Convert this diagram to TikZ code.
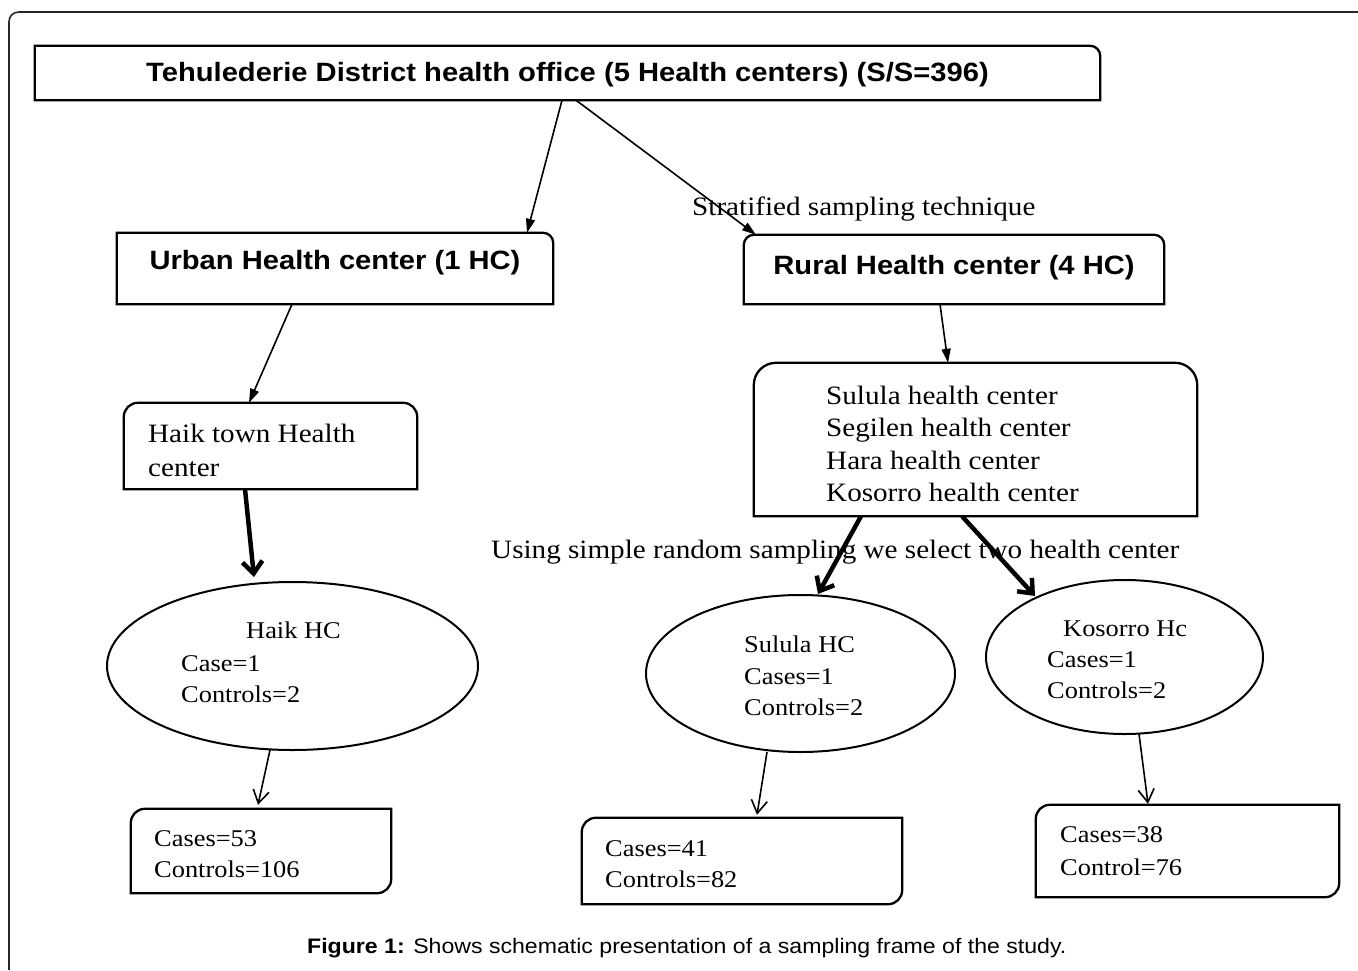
\documentclass[tikz,border=0pt]{standalone}
\usepackage{fontspec}
\setmainfont{Liberation Serif}[FakeStretch=1.1]
\setsansfont{Liberation Sans}[FakeStretch=1.1]
\usetikzlibrary{arrows.meta,calc,shapes.geometric}
\begin{document}
\begin{tikzpicture}[x=1pt,y=-1pt,
  boxline/.style={line width=2.3pt, line join=miter},
  bx/.style={inner sep=0pt, draw=none, rectangle},
  hd/.style={bx, font=\sffamily\bfseries\fontsize{26.5}{30}\selectfont},
  ell/.style={draw, ellipse, line width=2pt, inner sep=0pt},
  txt/.style={inner sep=0pt, anchor=base west, font=\fontsize{26.5}{30}\selectfont},
  stxt/.style={inner sep=0pt, anchor=base west, font=\fontsize{24}{28}\selectfont},
  tri/.style={line width=1.6pt, -{Triangle[length=14pt,width=9pt]}},
  barb/.style={line width=1.6pt, -{Straight Barb[length=13pt,width=16pt]}},
  thk/.style={line width=4.5pt, -{Straight Barb[length=12pt,width=20pt]}}]
\useasboundingbox (0,0) rectangle (1358,970);
\fill[white] (0,0) rectangle (1358,970);
% outer frame
\draw[line width=1.6pt, draw=black!85] (9,970) -- (9,22) .. controls (9,16.5) and (12.5,12) .. (19,12) -- (1358,12);

% boxes (nodes)
\node[hd, minimum width=1065pt, minimum height=54pt, text height=35pt, text depth=19pt] (top) at (567.5,73)
  {Tehulederie District health office (5 Health centers) (S/S=396)};
\node[hd, minimum width=436pt, minimum height=71pt, text height=36.5pt, text depth=34.5pt] (urban) at (335,268.5)
  {Urban Health center (1 HC)};
\node[hd, minimum width=420pt, minimum height=69pt, text height=39pt, text depth=30pt] (rural) at (954,269.5)
  {Rural Health center (4 HC)};
\node[bx, minimum width=293pt, minimum height=86pt] (htown) at (270.5,446) {};
\node[bx, minimum width=443pt, minimum height=153pt] (list) at (975.5,439.5) {};
\node[bx, minimum width=260pt, minimum height=84pt] (hres) at (261,851) {};
\node[bx, minimum width=320pt, minimum height=86pt] (sres) at (742,861) {};
\node[bx, minimum width=303pt, minimum height=92pt] (kres) at (1187.5,851) {};

% ellipses
\node[ell, minimum width=371pt, minimum height=168pt] (hhc) at (292.5,666) {};
\node[ell, minimum width=309pt, minimum height=157pt] (sul) at (800.5,673.5) {};
\node[ell, minimum width=277pt, minimum height=154pt] (kos) at (1124.5,657) {};

% box outlines
\draw[boxline] (top.south west) -- (top.north west) -- ($(top.north east)+(-10,0)$) .. controls ($(top.north east)+(-4.5,0)$) and ($(top.north east)+(0,4.5)$) .. ($(top.north east)+(0,10)$) -- (top.south east) -- cycle;
\draw[boxline] (urban.south west) -- (urban.north west) -- ($(urban.north east)+(-10,0)$) .. controls ($(urban.north east)+(-4.5,0)$) and ($(urban.north east)+(0,4.5)$) .. ($(urban.north east)+(0,10)$) -- (urban.south east) -- cycle;
\draw[boxline] (rural.south west) -- ($(rural.north west)+(0,10)$) .. controls ($(rural.north west)+(0,4.5)$) and ($(rural.north west)+(4.5,0)$) .. ($(rural.north west)+(10,0)$) -- ($(rural.north east)+(-10,0)$) .. controls ($(rural.north east)+(-4.5,0)$) and ($(rural.north east)+(0,4.5)$) .. ($(rural.north east)+(0,10)$) -- (rural.south east) -- cycle;
\draw[boxline] (htown.south west) -- ($(htown.north west)+(0,14)$) .. controls ($(htown.north west)+(0,6.3)$) and ($(htown.north west)+(6.3,0)$) .. ($(htown.north west)+(14,0)$) -- ($(htown.north east)+(-14,0)$) .. controls ($(htown.north east)+(-6.3,0)$) and ($(htown.north east)+(0,6.3)$) .. ($(htown.north east)+(0,14)$) -- (htown.south east) -- cycle;
\draw[boxline] (list.south west) -- ($(list.north west)+(0,22)$) .. controls ($(list.north west)+(0,10)$) and ($(list.north west)+(10,0)$) .. ($(list.north west)+(22,0)$) -- ($(list.north east)+(-22,0)$) .. controls ($(list.north east)+(-10,0)$) and ($(list.north east)+(0,10)$) .. ($(list.north east)+(0,22)$) -- (list.south east) -- cycle;
\draw[boxline] (hres.south west) -- ($(hres.north west)+(0,14)$) .. controls ($(hres.north west)+(0,6.3)$) and ($(hres.north west)+(6.3,0)$) .. ($(hres.north west)+(14,0)$) -- (hres.north east) -- ($(hres.south east)+(0,-14)$) .. controls ($(hres.south east)+(0,-6.3)$) and ($(hres.south east)+(-6.3,0)$) .. ($(hres.south east)+(-14,0)$) -- cycle;
\draw[boxline] (sres.south west) -- ($(sres.north west)+(0,14)$) .. controls ($(sres.north west)+(0,6.3)$) and ($(sres.north west)+(6.3,0)$) .. ($(sres.north west)+(14,0)$) -- (sres.north east) -- ($(sres.south east)+(0,-14)$) .. controls ($(sres.south east)+(0,-6.3)$) and ($(sres.south east)+(-6.3,0)$) .. ($(sres.south east)+(-14,0)$) -- cycle;
\draw[boxline] (kres.south west) -- ($(kres.north west)+(0,14)$) .. controls ($(kres.north west)+(0,6.3)$) and ($(kres.north west)+(6.3,0)$) .. ($(kres.north west)+(14,0)$) -- (kres.north east) -- ($(kres.south east)+(0,-14)$) .. controls ($(kres.south east)+(0,-6.3)$) and ($(kres.south east)+(-6.3,0)$) .. ($(kres.south east)+(-14,0)$) -- cycle;

% texts
\node[txt] (ht1) at (148,442) {Haik town Health};
\node[txt] (ht2) at (148,476) {center};
\node[txt] (l1) at (826,404) {Sulula health center};
\node[txt] (l2) at (826,436.5) {Segilen health center};
\node[txt] (l3) at (826,469) {Hara health center};
\node[txt] (l4) at (826,501) {Kosorro health center};
\node[txt] (strat) at (692,215) {Stratified sampling technique};
\node[txt] (using) at (491,558) {Using simple random sampling we select two health center};

\node[stxt] (hh1) at (246,638) {Haik HC};
\node[stxt] (hh2) at (181,671) {Case=1};
\node[stxt] (hh3) at (181,702) {Controls=2};
\node[stxt] (sh1) at (744,652) {Sulula HC};
\node[stxt] (sh2) at (744,684) {Cases=1};
\node[stxt] (sh3) at (744,715) {Controls=2};
\node[stxt] (kh1) at (1063,636) {Kosorro Hc};
\node[stxt] (kh2) at (1047,667) {Cases=1};
\node[stxt] (kh3) at (1047,698) {Controls=2};

\node[stxt] (hr1) at (154,846) {Cases=53};
\node[stxt] (hr2) at (154,877) {Controls=106};
\node[stxt] (sr1) at (605,856) {Cases=41};
\node[stxt] (sr2) at (605,887) {Controls=82};
\node[stxt] (kr1) at (1060,842) {Cases=38};
\node[stxt] (kr2) at (1060,875) {Control=76};

\node[inner sep=0pt, anchor=base west, font=\sffamily\fontsize{21}{24}\selectfont] (cap) at (307,953)
  {\textbf{Figure 1:} Shows schematic presentation of a sampling frame of the study.};

% connectors
\draw[tri] ($(top.south)+(-5.5,0)$) -- ($(urban.north)+(192,0)$);
\draw[tri] ($(top.south)+(8.5,0)$) -- ($(rural.north)+(-198,0)$);
\draw[tri] ($(urban.south)+(-43,0)$) -- ($(htown.north)+(-21.5,0)$);
\draw[tri] ($(rural.south)+(-14,0)$) -- ($(list.north)+(-27.5,0)$);
\draw[thk] ($(htown.south)+(-25.5,0)$) -- ($(hhc.north)+(-38.5,-4)$);
\draw[thk] ($(list.south)+(-114.5,0)$) -- ($(sul.north)+(17.5,0)$);
\draw[thk] ($(list.south)+(-13.5,0)$) -- ($(kos.center)+(-89.5,-61)$);
\draw[barb] ($(hhc.south)+(-22.5,-1)$) -- ($(hres.north)+(-3,-4)$);
\draw[barb] ($(sul.south)+(-33.5,-1)$) -- ($(sres.north)+(15,-3)$);
\draw[barb] ($(kos.south)+(14.5,-1)$) -- ($(kres.north)+(-39.5,-1)$);
\end{tikzpicture}
\end{document}
